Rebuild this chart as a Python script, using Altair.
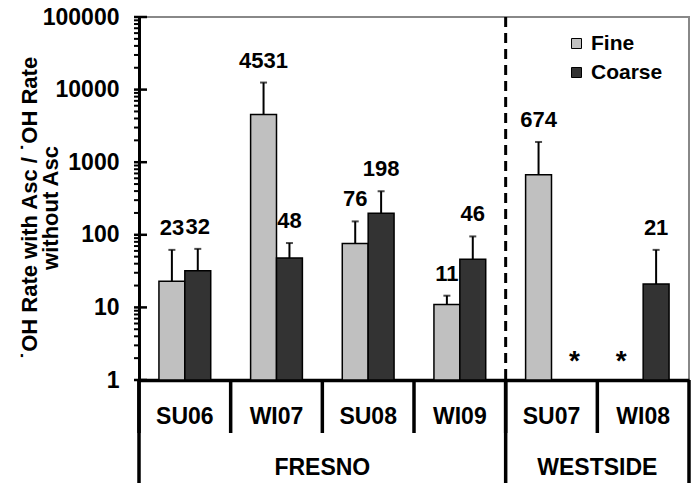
import altair as alt
import pandas as pd

# ---- data ----
seasons = ["SU06", "WI07", "SU08", "WI09", "SU07", "WI08"]
sites = ["FRESNO", "FRESNO", "FRESNO", "FRESNO", "WESTSIDE", "WESTSIDE"]
sizes = ["Fine", "Coarse"]
fine_vals = [23, 4531, 76, 11, 674, None]
coarse_vals = [32, 48, 198, 46, None, 21]
fine_err_top = [62, 12500, 153, 14.5, 1900, None]
coarse_err_top = [64, 77, 398, 95, None, 62]
major_ticks = [1, 10, 100, 1000, 10000, 100000]
colors = ["#c0c0c0", "#333333"]

rows = []
for i, s in enumerate(seasons):
    for t, vals, errs in (("Fine", fine_vals, fine_err_top), ("Coarse", coarse_vals, coarse_err_top)):
        v = vals[i]
        rows.append({
            "season": s, "site": sites[i], "size": t,
            "value": v, "err": errs[i],
            "label": (str(int(round(v))) if v is not None else "*"),
            "missing": v is None,
        })
df = pd.DataFrame(rows)
present = df[~df["missing"]]

minor_ticks = [m * k for k in major_ticks[:-1] for m in range(2, 10)]

FONT = "Liberation Sans"
W, H = 550, 363

x_axis = alt.Axis(title=None, domain=True, domainColor="black", domainWidth=3.5,
                  ticks=False, tickSize=0, labelFontSize=23, labelFontWeight="bold",
                  labelColor="black", labelPadding=36, labelBaseline="middle",
                  labelAngle=0, grid=False)
x_scale = alt.Scale(domain=seasons, paddingInner=0, paddingOuter=0)
y_scale = alt.Scale(type="log", domain=[1, 100000])
y_axis = alt.Axis(title=None, values=major_ticks, format="d", domain=True,
                  domainColor="black", domainWidth=3, ticks=False, tickSize=0,
                  labelFontSize=23, labelFontWeight="bold", labelColor="black",
                  labelPadding=20, grid=False)
xo_scale = alt.Scale(domain=sizes, paddingInner=0, paddingOuter=0.77)


def X(field="season", **kw):
    return alt.X(f"{field}:N", scale=x_scale, axis=x_axis, **kw)


def Y(field):
    return alt.Y(f"{field}:Q", scale=y_scale, axis=y_axis)


XO = alt.XOffset("size:N", scale=xo_scale, sort=sizes)

base = alt.Chart(present)

bars = base.mark_bar(stroke="black", strokeWidth=1.5).encode(
    x=X(), xOffset=XO, y=Y("value"), y2=alt.datum(1),
    color=alt.Color("size:N", sort=sizes,
                    scale=alt.Scale(domain=sizes, range=colors),
                    legend=alt.Legend(title=None, orient="none", legendX=427, legendY=16,
                                      symbolType="square", symbolSize=100,
                                      symbolStrokeColor="black", symbolStrokeWidth=1,
                                      labelFontSize=21, labelFontWeight="bold",
                                      labelColor="black", labelOffset=4, rowPadding=7,
                                      padding=0)),
)

err_rule = base.mark_rule(color="black", strokeWidth=2).encode(
    x=X(), xOffset=XO, y=Y("value"), y2="err:Q")

err_cap = base.mark_tick(color="black", size=7, thickness=2).encode(
    x=X(), xOffset=XO, y=Y("err"))

value_labels = base.mark_text(fontSize=22, fontWeight="bold", color="black",
                              baseline="alphabetic", dy=-15, font=FONT).encode(
    x=X(), xOffset=XO, y=Y("err"), text="label:N")

miss = df[df["missing"]]
ast_coarse = alt.Chart(miss[miss["size"] == "Coarse"]).mark_text(
    fontSize=28, fontWeight="bold", color="black", baseline="alphabetic", dx=10, font=FONT
).encode(x=X(), xOffset=XO, y=alt.value(353), text="label:N")
ast_fine = alt.Chart(miss[miss["size"] == "Fine"]).mark_text(
    fontSize=28, fontWeight="bold", color="black", baseline="alphabetic", dx=-9, font=FONT
).encode(x=X(), xOffset=XO, y=alt.value(353), text="label:N")

# site separators
site_df = pd.DataFrame({"season": seasons, "site": sites})
first_of_site = site_df.drop_duplicates("site", keep="first")
last_of_site = site_df.drop_duplicates("site", keep="last")

dashed = alt.Chart(first_of_site.iloc[1:]).mark_rule(
    color="black", strokeWidth=3, strokeDash=[10, 6]).encode(
    x=X(bandPosition=0), y=alt.datum(100000, scale=y_scale), y2=alt.datum(1))

short_div = alt.Chart(site_df).mark_rule(color="black", strokeWidth=3.5).encode(
    x=X(bandPosition=0), y=alt.value(H), y2=alt.value(H + 53))
long_div_l = alt.Chart(first_of_site).mark_rule(color="black", strokeWidth=3.5).encode(
    x=X(bandPosition=0), y=alt.value(H), y2=alt.value(H + 103))
long_div_r = alt.Chart(last_of_site.iloc[-1:]).mark_rule(color="black", strokeWidth=3.5).encode(
    x=X(bandPosition=1), y=alt.value(H), y2=alt.value(H + 103))

# site labels centred under their seasons (each site spans an even number of seasons)
site_centers = []
for site in first_of_site["site"]:
    idx = [i for i, s in enumerate(sites) if s == site]
    site_centers.append({"site": site, "anchor": seasons[idx[0] + len(idx) // 2]})
sc = pd.DataFrame(site_centers)
site_labels = alt.Chart(sc).mark_text(
    fontSize=23, fontWeight="bold", color="black", baseline="middle", font=FONT).encode(
    x=X("anchor", bandPosition=0), y=alt.value(H + 88), text="site:N")

# y-axis tick marks
maj = alt.Chart(pd.DataFrame({"v": major_ticks})).mark_rule(color="black", strokeWidth=2.5).encode(
    y=Y("v"), x=alt.value(-5), x2=alt.value(8))
mino = alt.Chart(pd.DataFrame({"v": minor_ticks})).mark_rule(color="black", strokeWidth=2).encode(
    y=Y("v"), x=alt.value(-5), x2=alt.value(0))

# y title (two lines)
title_lines = ["\u02d9OH Rate with  Asc / \u02d9OH Rate", "without Asc"]
t1 = alt.Chart(pd.DataFrame({"t": [title_lines[0]]})).mark_text(
    angle=270, fontSize=22, fontWeight="bold", color="black", baseline="middle",
    align="center", font=FONT).encode(x=alt.value(-109), y=alt.value(191), text="t:N")
t2 = alt.Chart(pd.DataFrame({"t": [title_lines[1]]})).mark_text(
    angle=270, fontSize=22, fontWeight="bold", color="black", baseline="middle",
    align="center", font=FONT).encode(x=alt.value(-88), y=alt.value(191), text="t:N")

chart = alt.layer(
    bars, err_rule, err_cap, value_labels, ast_coarse, ast_fine, dashed,
    short_div, long_div_l, long_div_r, site_labels, maj, mino, t1, t2
).properties(
    width=W, height=H,
    autosize=alt.AutoSizeParams(type="none"),
    padding={"left": 131, "top": 9, "right": 2, "bottom": 105},
).configure(font=FONT).configure_view(
    stroke="#888888", strokeWidth=2
).configure_axis(labelFont=FONT).configure_legend(labelFont=FONT)

chart.save("out.html", embed_options={"renderer": "svg", "actions": False})
